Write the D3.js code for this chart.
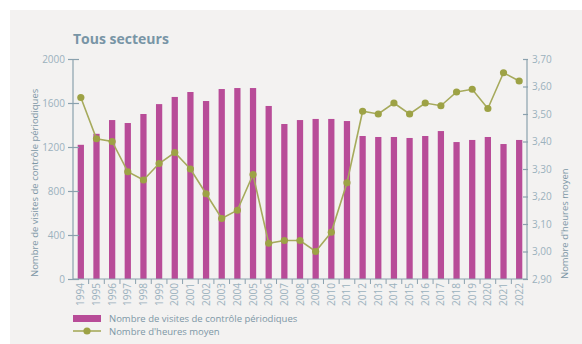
<!DOCTYPE html>
<html>
<head>
<meta charset="utf-8">
<script src="https://cdn.jsdelivr.net/npm/d3@7"></script>
<style>
  html, body { margin: 0; padding: 0; background: #ffffff; }
  svg { display: block; font-family: "Open Sans", sans-serif; }
</style>
</head>
<body>
<svg id="chart" width="582" height="344"></svg>
<script>
// Yearly figures, all sectors
const years = ["1994","1995","1996","1997","1998","1999","2000","2001","2002","2003",
  "2004","2005","2006","2007","2008","2009","2010","2011","2012","2013",
  "2014","2015","2016","2017","2018","2019","2020","2021","2022"];
const visits = [1220,1320,1445,1418,1500,1590,1655,1700,1618,1727,
  1736,1736,1573,1409,1445,1455,1455,1436,1300,1291,
  1291,1282,1300,1345,1245,1264,1291,1227,1264];
const hours = [3.56,3.41,3.40,3.29,3.26,3.32,3.36,3.30,3.21,3.12,
  3.15,3.28,3.03,3.04,3.04,3.00,3.07,3.25,3.51,3.50,
  3.54,3.50,3.54,3.53,3.58,3.59,3.52,3.65,3.62];
const leftTicks = [0,400,800,1200,1600,2000];
const rightTicks = [2.9,3.0,3.1,3.2,3.3,3.4,3.5,3.6,3.7];

const svg = d3.select("#chart");
const barColor = "#b84c98";
const lineColor = "#a6aa5c";
const dotColor = "#9da245";
const axisColor = "#8aa1ae";
const tickText = "#9bb1bd";
const labelText = "#7d97a6";

const x0 = 73, x1 = 527, yTop = 59, yBot = 279;

// panel background
svg.append("rect").attr("x", 10).attr("y", 10).attr("width", 572).attr("height", 334)
  .attr("fill", "#f3f2f1");

svg.append("text").attr("x", 73).attr("y", 44)
  .attr("font-size", 14).attr("font-weight", 700).attr("fill", "#7895a6")
  .text("Tous secteurs");

const x = d3.scaleBand().domain(years).range([x0, x1]).paddingInner(0.6).paddingOuter(0.3);
const yL = d3.scaleLinear().domain([0, 2000]).range([yBot, yTop]);
const yR = d3.scaleLinear().domain([2.9, 3.7]).range([yBot, yTop]);

// bars
svg.append("g").selectAll("rect").data(years).join("rect")
  .attr("x", d => x(d))
  .attr("width", x.bandwidth())
  .attr("y", (d, i) => yL(visits[i]))
  .attr("height", (d, i) => yBot - yL(visits[i]))
  .attr("fill", barColor);

// left axis
const gL = svg.append("g").attr("transform", `translate(${x0},0)`)
  .call(d3.axisLeft(yL).tickValues(leftTicks).tickSize(5).tickPadding(3).tickFormat(d3.format("d")));
gL.selectAll(".tick line").attr("x2", -5).attr("x1", 6);
// right axis
const gR = svg.append("g").attr("transform", `translate(${x1},0)`)
  .call(d3.axisRight(yR).tickValues(rightTicks).tickSize(0).tickPadding(5)
    .tickFormat(d => d3.format(".2f")(d).replace(".", ",")));
gR.selectAll(".tick line").attr("x1", -4).attr("x2", 1);
// bottom axis
const stepX = x.step();
const gB = svg.append("g").attr("transform", `translate(0,${yBot})`)
  .call(d3.axisBottom(x).tickSize(0).tickPadding(0));
gB.selectAll(".tick line").remove();
gB.selectAll(".tick text")
  .attr("transform", "rotate(-90)")
  .attr("text-anchor", "end")
  .attr("x", -4).attr("y", 0).attr("dy", "0.35em");
// separators between categories
gB.append("g").selectAll("line").data(years.slice(0, -1)).join("line")
  .attr("x1", d => x(d) + x.bandwidth() / 2 + stepX / 2)
  .attr("x2", d => x(d) + x.bandwidth() / 2 + stepX / 2)
  .attr("y1", 0).attr("y2", 5)
  .attr("stroke", axisColor);

[gL, gR, gB].forEach(g => {
  g.select(".domain").attr("stroke", axisColor).attr("stroke-width", 1.2);
  g.selectAll(".tick line").attr("stroke", axisColor).attr("stroke-width", 1.2);
  g.selectAll(".tick text").attr("fill", tickText).attr("font-size", 10)
    .attr("font-family", "'Open Sans', sans-serif");
});
gB.select(".domain").attr("d", `M${x0},0H${x1}`);
gL.select(".domain").attr("d", `M0,${yTop}V${yBot}`);
gR.select(".domain").attr("d", `M0,${yTop}V${yBot}`);

// line series
const cx = d => x(d) + x.bandwidth() / 2;
const line = d3.line().x((d, i) => cx(years[i])).y(d => yR(d));
svg.append("path").datum(hours).attr("d", line)
  .attr("fill", "none").attr("stroke", lineColor).attr("stroke-width", 1.6);
svg.append("g").selectAll("circle").data(hours).join("circle")
  .attr("cx", (d, i) => cx(years[i])).attr("cy", d => yR(d)).attr("r", 3.6)
  .attr("fill", dotColor);

// axis titles
svg.append("text").attr("transform", "translate(38,277) rotate(-90)")
  .attr("text-anchor", "start").attr("font-size", 9.5).attr("fill", labelText)
  .text("Nombre de visites de contrôle périodiques");
svg.append("text").attr("transform", "translate(568,279) rotate(-90)")
  .attr("text-anchor", "start").attr("font-size", 9.5).attr("fill", labelText)
  .text("Nombre d'heures moyen");

// legend
const lg = svg.append("g");
lg.append("rect").attr("x", 73).attr("y", 315).attr("width", 28).attr("height", 7).attr("fill", barColor);
lg.append("text").attr("x", 109).attr("y", 322).attr("font-size", 9.5).attr("fill", labelText)
  .text("Nombre de visites de contrôle périodiques");
lg.append("line").attr("x1", 73).attr("x2", 101).attr("y1", 331).attr("y2", 331)
  .attr("stroke", lineColor).attr("stroke-width", 1.6);
lg.append("circle").attr("cx", 87).attr("cy", 331).attr("r", 3.6).attr("fill", dotColor);
lg.append("text").attr("x", 109).attr("y", 334.5).attr("font-size", 9.5).attr("fill", labelText)
  .text("Nombre d'heures moyen");
</script>
</body>
</html>
